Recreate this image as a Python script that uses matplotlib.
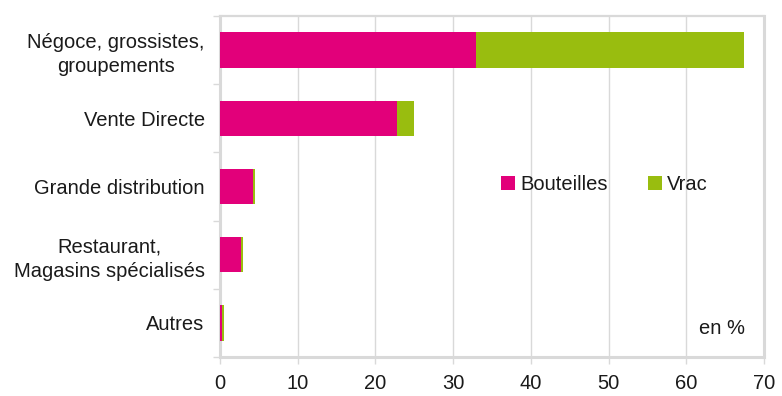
import matplotlib
matplotlib.use("Agg")
import matplotlib.pyplot as plt
import numpy as np

plt.rcParams['font.family'] = ['Liberation Sans', 'DejaVu Sans']

categories = ["Négoce, grossistes,\ngroupements", "Vente Directe", "Grande distribution",
              "Restaurant,\nMagasins spécialisés", "Autres"]
bouteilles = [33.0, 22.8, 4.2, 2.7, 0.25]
vrac = [34.4, 2.2, 0.3, 0.3, 0.25]
xticks = [0, 10, 20, 30, 40, 50, 60, 70]

pink = "#E2007A"
green = "#99BD0F"
grey = "#D9D9D9"
txt = "#1a1a1a"
fs = 14.5

fig = plt.figure(figsize=(7.82, 3.96), dpi=100)
ax = fig.add_axes([0.2813, 0.0985, 0.6957, 0.8611])

y = np.arange(len(categories))
ax.barh(y, bouteilles, height=0.52, color=pink, label="Bouteilles", zorder=3)
ax.barh(y, vrac, left=bouteilles, height=0.52, color=green, label="Vrac", zorder=3)

ax.set_ylim(len(categories) - 0.5, -0.5)
ax.set_xlim(0, 70)
ax.set_xticks(xticks)
ax.set_xticklabels([str(t) for t in xticks], fontsize=fs, color=txt)
ax.set_yticks(y)
ax.set_yticklabels(categories, fontsize=fs, color=txt, ha="right", multialignment="center",
                   linespacing=1.35)
ax.tick_params(axis='y', length=0, pad=11)
ax.set_yticks(np.arange(len(categories) + 1) - 0.5, minor=True)
ax.tick_params(axis='y', which='minor', length=5, color=grey, width=1)
ax.tick_params(axis='x', length=5, color=grey, width=1, pad=7)

ax.grid(axis='x', color=grey, linewidth=1, zorder=0)
for s in ax.spines.values():
    s.set_color(grey)
    s.set_linewidth(1.6)
ax.spines['left'].set_linewidth(2.2)
ax.spines['bottom'].set_linewidth(2.2)
ax.spines['right'].set_linewidth(2.2)

leg = ax.legend(loc='center', bbox_to_anchor=(0.707, 0.505), ncol=2, frameon=False,
                fontsize=fs, handlelength=0.7, handleheight=0.7, handletextpad=0.25,
                columnspacing=2.0)
for t in leg.get_texts():
    t.set_color(txt)

ax.text(0.965, 0.085, "en %", transform=ax.transAxes, ha='right', va='center',
        fontsize=fs, color=txt)

fig.savefig("out.png", dpi=100)
